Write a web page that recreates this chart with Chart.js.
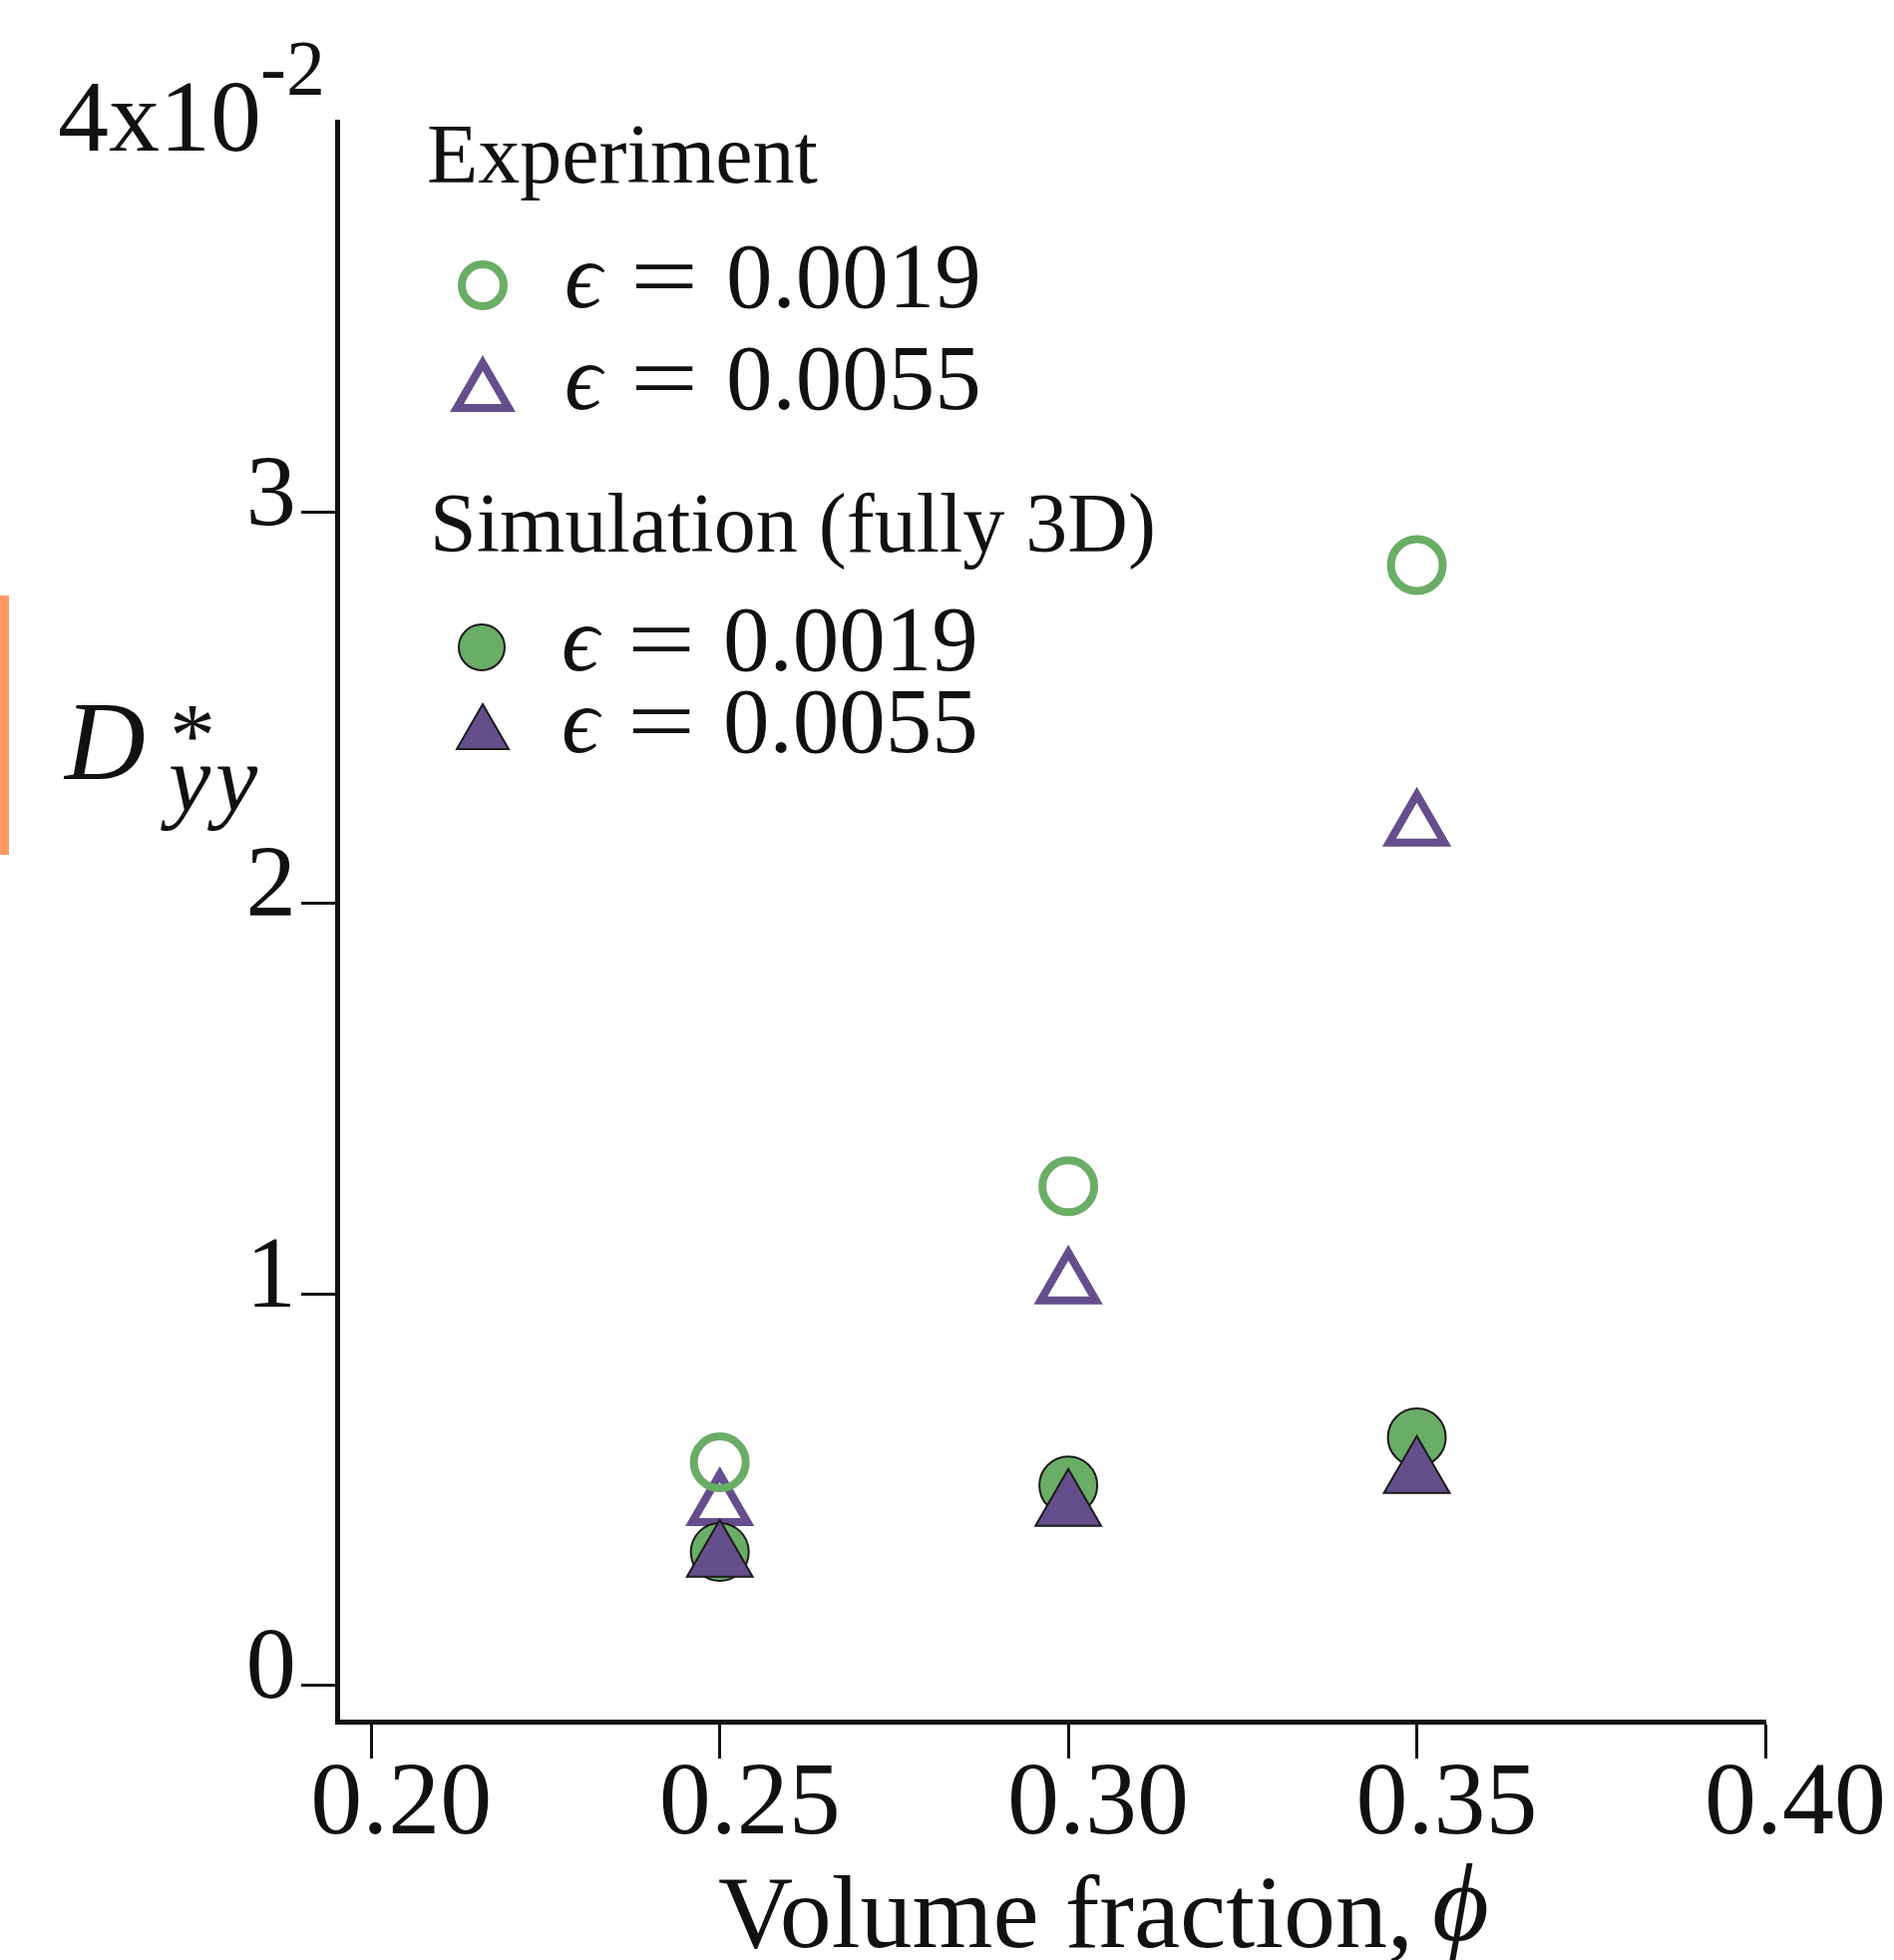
<!DOCTYPE html>
<html>
<head>
<meta charset="utf-8">
<script src="https://cdn.jsdelivr.net/npm/chart.js@4.4.0/dist/chart.umd.min.js"></script>
<style>
html, body { margin: 0; padding: 0; background: #fff; }
#wrap { position: relative; width: 1899px; height: 1965px; }
#mark { position: absolute; left: 0; top: 597px; width: 9px; height: 260px; background: #ff9966; }
</style>
</head>
<body>
<div id="wrap"><canvas id="chart"></canvas><div id="mark"></div></div>
<script>
// volume fraction (x) and D*_yy in units of 10^-2 (y)
const volumeFraction = [0.25, 0.30, 0.35];
const expEps0019 = [0.571, 1.277, 2.866];
const expEps0055 = [0.459, 1.026, 2.197];
const simEps0019 = [0.342, 0.512, 0.635];
const simEps0055 = [0.327, 0.457, 0.541];

const xTicks = [0.20, 0.25, 0.30, 0.35, 0.40];
const yTicks = [0, 1, 2, 3, 4];
const epsLabels = ['0.0019', '0.0055'];

const green = '#6aad66';
const purple = '#654e8c';
const ink = '#111';
const serif = '"Liberation Serif", "DejaVu Serif", serif';

function points(ys) {
    return volumeFraction.map((x, i) => ({ x: x, y: ys[i] }));
}

function text(ctx, str, x, y, font) {
    ctx.font = font;
    ctx.fillText(str, x, y);
}

// legend and the math-style labels drawn on top of the canvas
const annotations = {
    id: 'annotations',
    afterDraw(chart) {
        const ctx = chart.ctx;
        const ds = chart.data.datasets;
        ctx.save();
        ctx.fillStyle = ink;
        ctx.textBaseline = 'alphabetic';
        ctx.textAlign = 'left';

        // 4x10^-2 at the top of the y axis
        text(ctx, '4x10', 58, 151, '102px ' + serif);
        text(ctx, '-2', 261, 94, '78px ' + serif);

        // y title D*_yy
        text(ctx, 'D', 65, 781, 'italic 112px ' + serif);
        text(ctx, '*', 170, 768, '92px ' + serif);
        text(ctx, 'y', 169, 813, 'italic 95px ' + serif);
        text(ctx, 'y', 216, 813, 'italic 95px ' + serif);

        // x title
        text(ctx, 'Volume fraction,', 720, 1952, '104px ' + serif);
        text(ctx, 'ϕ', 1436, 1945, 'italic 110px ' + serif);

        // legend
        text(ctx, 'Experiment', 428, 183, '84px ' + serif);
        text(ctx, 'Simulation (fully 3D)', 431, 553, '84px ' + serif);

        const rows = [
            { d: 0, mx: 484, my: 286, r: 21, base: 308, eps: 0 },
            { d: 1, mx: 484, my: 394, r: 30, base: 410, eps: 1 },
            { d: 2, mx: 483, my: 649, r: 23, base: 672, eps: 0 },
            { d: 3, mx: 484, my: 736, r: 30, base: 754, eps: 1 }
        ];
        rows.forEach(row => {
            const d = ds[row.d];
            ctx.save();
            ctx.fillStyle = d.backgroundColor;
            ctx.strokeStyle = d.borderColor;
            ctx.lineWidth = d.pointBorderWidth;
            Chart.helpers.drawPoint(ctx, {
                pointStyle: d.pointStyle, radius: row.r, rotation: 0, borderWidth: d.pointBorderWidth
            }, row.mx, row.my);
            ctx.restore();
            const dx = row.d >= 2 ? -3 : 0;
            text(ctx, 'ϵ', 566 + dx, row.base, 'italic 93px ' + serif);
            ctx.save();
            ctx.translate(632 + dx, row.base);
            ctx.scale(1.3, 1);
            text(ctx, '=', 0, 0, '93px ' + serif);
            ctx.restore();
            text(ctx, epsLabels[row.eps], 728 + dx, row.base, '93px ' + serif);
        });
        ctx.restore();
    }
};

new Chart(document.getElementById('chart'), {
    type: 'scatter',
    data: {
        datasets: [
            {
                label: 'Experiment, ϵ = 0.0019',
                data: points(expEps0019),
                pointStyle: 'circle',
                pointRadius: 26,
                backgroundColor: 'rgba(0,0,0,0)',
                borderColor: green,
                pointBorderWidth: 8,
                order: 2
            },
            {
                label: 'Experiment, ϵ = 0.0055',
                data: points(expEps0055),
                pointStyle: 'triangle',
                pointRadius: 32,
                backgroundColor: 'rgba(0,0,0,0)',
                borderColor: purple,
                pointBorderWidth: 8,
                order: 3
            },
            {
                label: 'Simulation, ϵ = 0.0019',
                data: points(simEps0019),
                pointStyle: 'circle',
                pointRadius: 29,
                backgroundColor: green,
                borderColor: '#1a1a1a',
                pointBorderWidth: 2,
                order: 1
            },
            {
                label: 'Simulation, ϵ = 0.0055',
                data: points(simEps0055),
                pointStyle: 'triangle',
                pointRadius: 38,
                backgroundColor: purple,
                borderColor: '#1a1a1a',
                pointBorderWidth: 2,
                order: 0
            }
        ]
    },
    options: {
        responsive: true,
        maintainAspectRatio: false,
        animation: false,
        layout: { padding: { top: 122, right: 129, left: 0, bottom: 0 } },
        plugins: {
            legend: { display: false },
            tooltip: { enabled: false }
        },
        scales: {
            x: {
                type: 'linear',
                min: 0.1951,
                max: 0.40,
                afterBuildTicks: s => { s.ticks = xTicks.map(v => ({ value: v })); },
                afterFit: s => { s.height = 239; },
                ticks: {
                    callback: v => v.toFixed(2),
                    font: { family: serif, size: 104 },
                    color: ink,
                    padding: -15,
                    labelOffset: 30,
                    maxRotation: 0,
                    autoSkip: false
                },
                grid: {
                    drawOnChartArea: false,
                    drawTicks: true,
                    tickLength: 37,
                    tickWidth: 3,
                    tickColor: ink
                },
                border: { display: true, width: 5, color: ink }
            },
            y: {
                type: 'linear',
                min: -0.092,
                max: 4,
                afterBuildTicks: s => { s.ticks = yTicks.map(v => ({ value: v })); },
                afterFit: s => { s.width = 338; },
                ticks: {
                    callback: v => (v === 4 ? '' : String(v)),
                    font: { family: serif, size: 101 },
                    color: ink,
                    padding: 5,
                    labelOffset: -14,
                    autoSkip: false
                },
                grid: {
                    drawOnChartArea: false,
                    drawTicks: true,
                    tickLength: 36,
                    tickWidth: 3,
                    tickColor: c => (c.tick && c.tick.value === 4 ? 'rgba(0,0,0,0)' : ink)
                },
                border: { display: true, width: 5, color: ink }
            }
        }
    },
    plugins: [annotations]
});
</script>
</body>
</html>
